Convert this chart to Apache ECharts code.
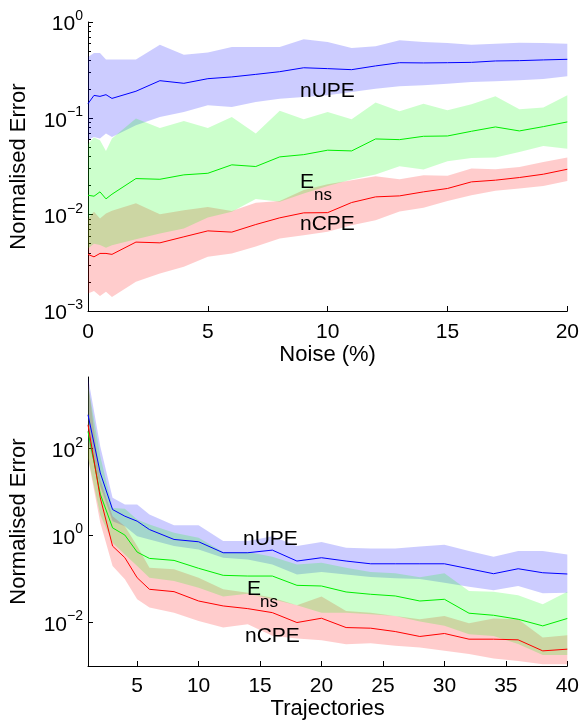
<!DOCTYPE html>
<html><head><meta charset="utf-8">
<script src="https://cdn.jsdelivr.net/npm/echarts@6/dist/echarts.min.js"></script>
<style>html,body{margin:0;padding:0;background:#fff}#c{width:582px;height:726px}</style>
</head><body><div id="c"></div>
<script>
// ---------- Top panel: error vs noise ----------
const noiseX = [0,0.25,0.5,0.75,1,2,3,4,5,6,7,8,9,10,11,12,13,14,15,16,17,18,19,20];
const nUPE_noise_mean = [0.142,0.173,0.169,0.176,0.161,0.191,0.246,0.231,0.258,0.269,0.286,0.305,0.335,0.328,0.32,0.35,0.378,0.376,0.378,0.381,0.394,0.397,0.404,0.41];
const nUPE_noise_hi = [0.433,0.477,0.477,0.407,0.407,0.407,0.582,0.458,0.481,0.55,0.55,0.55,0.661,0.621,0.537,0.56,0.645,0.621,0.605,0.582,0.596,0.61,0.605,0.596];
const nUPE_noise_lo = [0.0601,0.0641,0.0616,0.0695,0.0641,0.0848,0.1035,0.1165,0.1367,0.131,0.148,0.16,0.167,0.1735,0.188,0.203,0.215,0.22,0.229,0.239,0.242,0.248,0.256,0.273];
const Ens_noise_mean = [0.0159,0.01555,0.01725,0.01459,0.0163,0.0237,0.0233,0.0259,0.0269,0.0329,0.0316,0.0398,0.042,0.0467,0.0459,0.0611,0.0601,0.0651,0.0656,0.0734,0.0814,0.074,0.082,0.0918];
const Ens_noise_hi = [0.054,0.0632,0.0593,0.0459,0.0617,0.0995,0.0796,0.094,0.0796,0.1035,0.0695,0.12,0.098,0.116,0.098,0.146,0.1185,0.142,0.121,0.14,0.1695,0.124,0.1295,0.174];
const Ens_noise_lo = [0.00446,0.005,0.00483,0.00453,0.0048,0.00557,0.00638,0.0072,0.00935,0.0107,0.0145,0.0136,0.0166,0.0198,0.0232,0.0261,0.0319,0.0294,0.0359,0.0388,0.0392,0.0448,0.0517,0.0482];
const nCPE_noise_mean = [0.00387,0.00365,0.00396,0.00396,0.00387,0.00519,0.0051,0.00589,0.00679,0.00659,0.0079,0.00927,0.01044,0.0105,0.01337,0.0153,0.01567,0.01725,0.0187,0.0219,0.0228,0.0243,0.0263,0.0296];
const nCPE_noise_hi = [0.00912,0.0107,0.0091,0.0103,0.011,0.0131,0.0101,0.0111,0.012,0.0109,0.0133,0.0139,0.018,0.0207,0.0228,0.0251,0.0233,0.0257,0.0253,0.0301,0.0296,0.0313,0.0353,0.0392];
const nCPE_noise_lo = [0.00152,0.00161,0.00143,0.00158,0.0014,0.00201,0.00245,0.00288,0.00365,0.00396,0.00467,0.00566,0.00612,0.00663,0.00778,0.00877,0.0108,0.0118,0.0139,0.0159,0.0177,0.0187,0.0198,0.0224];

// ---------- Bottom panel: error vs trajectories ----------
const trajX = [1,2,3,4,5,6,8,10,12,14,16,18,20,22,24,26,28,30,32,34,36,38,40];
const nUPE_traj_mean = [603,27.7,3.98,2.8,2.15,1.38,0.817,0.722,0.404,0.404,0.464,0.26,0.31,0.26,0.225,0.225,0.225,0.225,0.173,0.133,0.173,0.14,0.131];
const nUPE_traj_hi = [4400,113,7.4,5.19,5.19,3.06,1.74,1.74,0.748,0.748,0.973,0.574,0.709,0.526,0.507,0.507,0.56,0.615,0.44,0.327,0.44,0.44,0.37];
const nUPE_traj_lo = [150,13.6,2.15,1.65,0.97,0.817,0.574,0.481,0.31,0.284,0.218,0.128,0.145,0.128,0.111,0.104,0.1,0.0828,0.067,0.0552,0.0693,0.0471,0.0488];
const Ens_traj_mean = [250,9,1.51,1.03,0.418,0.299,0.269,0.177,0.122,0.1175,0.1175,0.0718,0.0693,0.0505,0.0447,0.0409,0.0313,0.0343,0.0164,0.0147,0.0119,0.00838,0.0124];
const Ens_traj_hi = [3000,66.7,4.35,4.13,2.35,1.8,1.16,0.89,0.418,0.418,0.327,0.218,0.238,0.183,0.145,0.1355,0.11,0.1355,0.0532,0.0514,0.0424,0.0263,0.051];
const Ens_traj_lo = [60,3,0.686,0.37,0.2,0.1075,0.0903,0.0635,0.0395,0.0462,0.0343,0.025,0.0169,0.0169,0.0155,0.0142,0.0105,0.0084,0.0054,0.0049,0.0032,0.00178,0.00178];
const nCPE_traj_mean = [355,7.4,0.574,0.31,0.1075,0.0582,0.0514,0.0313,0.0241,0.0209,0.0169,0.01,0.01256,0.00767,0.00741,0.00621,0.00478,0.0056,0.00414,0.00414,0.004,0.00223,0.00244];
const nCPE_traj_hi = [3500,19.4,2.8,1.65,0.574,0.183,0.1675,0.1075,0.0582,0.0488,0.0374,0.025,0.0395,0.0185,0.0169,0.0142,0.0119,0.0142,0.00966,0.0124,0.0119,0.00453,0.00512];
const nCPE_traj_lo = [60,1.97,0.2,0.0986,0.0343,0.0221,0.0169,0.0109,0.00767,0.00916,0.00494,0.0043,0.00393,0.00318,0.00336,0.00291,0.00267,0.00223,0.00188,0.00149,0.00131,0.0011,0.0011];

// tick labels
const noiseTicks = [0,5,10,15,20];
const trajTicks = [5,10,15,20,25,30,35,40];
const topYTicks = [0.001,0.01,0.1,1];
const botYTicks = [0.01,1,100];

const FONT = "'Liberation Sans', Arial, Helvetica, sans-serif";
const BLUE = '#0000ff', GREEN = '#00ee00', RED = '#ff0000';

const topMinor = [];
for (let k = -3; k < 0; k++) for (let m = 2; m <= 9; m++) topMinor.push(+(m * Math.pow(10, k)).toPrecision(3));

function powLabel(v) {
  const e = Math.round(Math.log10(v));
  return '{b|10}{s|' + (e < 0 ? '\u2212' + (-e) : e) + '}';
}
const richLbl = {
  b: {fontSize: 21, fontFamily: FONT, color: '#000', lineHeight: 26, verticalAlign: 'bottom'},
  s: {fontSize: 14, fontFamily: FONT, color: '#000', verticalAlign: 'top', lineHeight: 14}
};

function band(xs, lo, hi, color, xi, yi) {
  return {
    type: 'custom', xAxisIndex: xi, yAxisIndex: yi, silent: true, clip: true, z: 1,
    data: xs.map((x, i) => [x, lo[i], hi[i]]),
    encode: {x: 0, y: [1, 2]},
    renderItem: function (params, api) {
      if (params.dataIndex !== 0) return null;
      const pts = [];
      for (let i = 0; i < xs.length; i++) pts.push(api.coord([xs[i], hi[i]]));
      for (let i = xs.length - 1; i >= 0; i--) pts.push(api.coord([xs[i], lo[i]]));
      return {type: 'polygon', shape: {points: pts}, style: {fill: color, stroke: null}};
    }
  };
}
function line(xs, ys, color, xi, yi) {
  return {
    type: 'line', xAxisIndex: xi, yAxisIndex: yi, data: xs.map((x, i) => [x, ys[i]]),
    showSymbol: false, symbol: 'none', z: 3, silent: true,
    lineStyle: {color: color, width: 1}, clip: true
  };
}

const axisLineStyle = {show: true, lineStyle: {color: '#000', width: 1}};
const chart = echarts.init(document.getElementById('c'), null, {renderer: 'canvas'});
const option = {
  animation: false,
  backgroundColor: '#fff',
  grid: [
    {left: 87, top: 22, width: 483, height: 289},
    {left: 87, top: 377, width: 483, height: 289}
  ],
  xAxis: [
    {gridIndex: 0, type: 'value', min: 0, max: 20, interval: 5,
     axisLine: axisLineStyle, splitLine: {show: false},
     axisTick: {inside: true, length: 5, lineStyle: {color: '#000'}, customValues: noiseTicks},
     axisLabel: {fontSize: 21, fontFamily: FONT, color: '#000', margin: 11, customValues: noiseTicks},
     name: 'Noise (%)', nameLocation: 'middle', nameGap: 31,
     nameTextStyle: {fontSize: 22, fontFamily: FONT, color: '#000'}},
    {gridIndex: 1, type: 'value', min: 1, max: 40,
     axisLine: axisLineStyle, splitLine: {show: false},
     axisTick: {inside: true, length: 5, lineStyle: {color: '#000'}, customValues: trajTicks},
     axisLabel: {fontSize: 21, fontFamily: FONT, color: '#000', margin: 10, customValues: trajTicks},
     name: 'Trajectories', nameLocation: 'middle', nameGap: 31,
     nameTextStyle: {fontSize: 22, fontFamily: FONT, color: '#000'}}
  ],
  yAxis: [
    {gridIndex: 0, type: 'log', logBase: 10, min: 0.001, max: 1, position: 'left',
     axisLine: axisLineStyle, splitLine: {show: false},
     axisTick: {inside: true, length: 5, lineStyle: {color: '#000'}, customValues: topYTicks},
     axisLabel: {margin: 5, formatter: powLabel, rich: richLbl, customValues: topYTicks},
     name: 'Normalised Error', nameLocation: 'middle', nameGap: 58,
     nameTextStyle: {fontSize: 22, fontFamily: FONT, color: '#000'}},
    {gridIndex: 0, type: 'log', logBase: 10, min: 0.001, max: 1, position: 'left', offset: 0,
     axisLine: {show: false}, splitLine: {show: false}, axisLabel: {show: false},
     axisTick: {show: true, inside: true, length: 3, lineStyle: {color: '#000'}, customValues: topMinor}},
    {gridIndex: 1, type: 'log', logBase: 10, min: 0.001, max: 4470, position: 'left',
     axisLine: axisLineStyle, splitLine: {show: false},
     axisTick: {inside: true, length: 5, lineStyle: {color: '#000'}, customValues: botYTicks},
     axisLabel: {margin: 5, formatter: powLabel, rich: richLbl, customValues: botYTicks},
     name: 'Normalised Error', nameLocation: 'middle', nameGap: 58,
     nameTextStyle: {fontSize: 22, fontFamily: FONT, color: '#000'}}
  ],
  series: [
    band(noiseX, nUPE_noise_lo, nUPE_noise_hi, 'rgba(0,0,255,0.2)', 0, 0),
    band(noiseX, nCPE_noise_lo, nCPE_noise_hi, 'rgba(255,0,0,0.2)', 0, 0),
    band(noiseX, Ens_noise_lo, Ens_noise_hi, 'rgba(0,255,0,0.2)', 0, 0),
    line(noiseX, nUPE_noise_mean, BLUE, 0, 0),
    line(noiseX, Ens_noise_mean, GREEN, 0, 0),
    line(noiseX, nCPE_noise_mean, RED, 0, 0),
    band(trajX, nUPE_traj_lo, nUPE_traj_hi, 'rgba(0,0,255,0.2)', 1, 2),
    band(trajX, nCPE_traj_lo, nCPE_traj_hi, 'rgba(255,0,0,0.2)', 1, 2),
    band(trajX, Ens_traj_lo, Ens_traj_hi, 'rgba(0,255,0,0.2)', 1, 2),
    line(trajX, nUPE_traj_mean, BLUE, 1, 2),
    line(trajX, Ens_traj_mean, GREEN, 1, 2),
    line(trajX, nCPE_traj_mean, RED, 1, 2)
  ],
  graphic: [
    {type: 'text', left: 300, top: 81, z: 10, style: {text: 'nUPE', font: '21px ' + FONT, fill: '#000'}},
    {type: 'text', left: 300, top: 172, z: 10, style: {text: 'E', font: '21px ' + FONT, fill: '#000'}},
    {type: 'text', left: 314, top: 187, z: 10, style: {text: 'ns', font: '17px ' + FONT, fill: '#000'}},
    {type: 'text', left: 300, top: 214, z: 10, style: {text: 'nCPE', font: '21px ' + FONT, fill: '#000'}},
    {type: 'text', left: 243, top: 529, z: 10, style: {text: 'nUPE', font: '21px ' + FONT, fill: '#000'}},
    {type: 'text', left: 247, top: 579, z: 10, style: {text: 'E', font: '21px ' + FONT, fill: '#000'}},
    {type: 'text', left: 260, top: 594, z: 10, style: {text: 'ns', font: '17px ' + FONT, fill: '#000'}},
    {type: 'text', left: 245, top: 626, z: 10, style: {text: 'nCPE', font: '21px ' + FONT, fill: '#000'}}
  ]
};
chart.setOption(option);
</script>
</body></html>
